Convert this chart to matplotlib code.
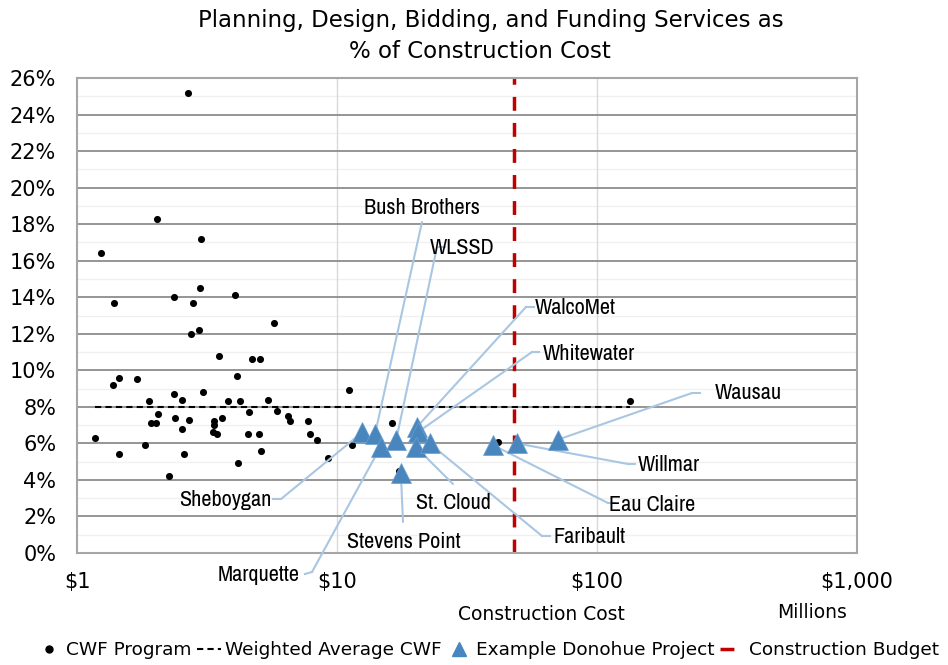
import matplotlib
matplotlib.use("Agg")
import matplotlib.pyplot as plt
from matplotlib.lines import Line2D
from matplotlib import font_manager
from matplotlib.font_manager import FontProperties
import numpy as np

# ---------------- data ----------------
cwf_cost = [1.17, 1.24, 1.38, 1.39, 1.45, 1.45, 1.70, 1.83, 1.89, 1.93,
            2.01, 2.03, 2.05, 2.26, 2.36, 2.36, 2.38, 2.53, 2.53, 2.58,
            2.67, 2.70, 2.75, 2.79, 2.95, 2.97, 3.00, 3.05, 3.34, 3.37,
            3.37, 3.46, 3.52, 3.61, 3.81, 4.05, 4.13, 4.16, 4.24, 4.55,
            4.59, 4.71, 5.01, 5.06, 5.10, 5.43, 5.72, 5.88, 6.48, 6.60,
            7.74, 7.88, 8.38, 9.24, 11.1, 11.4, 16.3, 17.3, 41.6, 134.0]
cwf_pct = [6.3, 16.4, 9.2, 13.7, 9.6, 5.4, 9.5, 5.9, 8.3, 7.1,
           7.1, 18.3, 7.6, 4.2, 14.0, 8.7, 7.4, 8.4, 6.8, 5.4,
           25.2, 7.3, 12.0, 13.7, 12.2, 14.5, 17.2, 8.8, 6.6, 7.2,
           7.0, 6.5, 10.8, 7.4, 8.3, 14.1, 9.7, 4.9, 8.3, 6.5,
           7.7, 10.6, 6.5, 10.6, 5.6, 8.4, 12.6, 7.8, 7.5, 7.2,
           7.2, 6.5, 6.2, 5.2, 8.9, 5.9, 7.1, 4.5, 6.1, 8.3]

project_names = ["Sheboygan", "Bush Brothers", "Marquette", "WLSSD", "WalcoMet",
                 "Whitewater", "St. Cloud", "Faribault", "Stevens Point",
                 "Eau Claire", "Willmar", "Wausau"]
project_cost = [12.5, 14.0, 14.7, 16.9, 20.3, 20.4, 20.1, 22.7, 17.6, 39.9, 49.1, 70.6]
project_pct = [6.6, 6.5, 5.8, 6.2, 6.9, 6.6, 5.8, 6.0, 4.4, 5.9, 6.0, 6.2]

weighted_avg = 8.0
budget = 48.0

y_ticks = list(range(0, 27, 2))
y_tick_labels = [f"{v}%" for v in y_ticks]
x_ticks = [1, 10, 100, 1000]
x_tick_labels = ["$1", "$10", "$100", "$1,000"]

# ---------------- fonts ----------------
main_font = "DejaVu Sans"
plt.rcParams["font.family"] = [main_font]

cands = []
for f in font_manager.fontManager.ttflist:
    fn = f.fname.lower()
    if ("narrow" in fn or "condensed" in fn) and "bold" not in fn and "italic" not in fn \
            and "oblique" not in fn and "light" not in fn and "thin" not in fn:
        cands.append(f.fname)
cands.sort(key=lambda p: (0 if "narrow" in p.lower() else 1, len(p)))
if cands:
    narrow_prop = FontProperties(fname=cands[0], size=16)
else:
    narrow_prop = FontProperties(family="Roboto", size=13.5)

W, H = 948, 665
fig = plt.figure(figsize=(W / 100, H / 100), dpi=100)
L, R, T, B = 77, 857, 78, 553
ax = fig.add_axes([L / W, (H - B) / H, (R - L) / W, (B - T) / H])

ax.set_xscale("log")
ax.set_xlim(1, 1000)
ax.set_ylim(0, 26)

# grid
for v in range(1, 26, 2):
    ax.axhline(v, color="#f0f0f0", lw=1.0, zorder=0)
for v in range(2, 26, 2):
    ax.axhline(v, color="#8c8c8c", lw=1.3, zorder=0.5)
for v in [10, 100]:
    ax.axvline(v, color="#d9d9d9", lw=1.0, zorder=0.4)

for s in ax.spines.values():
    s.set_color("#a6a6a6")
    s.set_linewidth(1.5)

ax.set_yticks(y_ticks)
ax.set_yticklabels(y_tick_labels)
ax.set_xticks(x_ticks)
ax.set_xticklabels(x_tick_labels)
ax.minorticks_off()
ax.tick_params(axis="both", length=0, labelsize=15, colors="black")
ax.tick_params(axis="y", pad=15)
ax.tick_params(axis="x", pad=14)

# series
ax.scatter(cwf_cost, cwf_pct, s=26, color="black", zorder=3, linewidths=0)
ax.plot([min(cwf_cost), max(cwf_cost)], [weighted_avg, weighted_avg],
        color="black", lw=1.5, ls=(0, (3, 2)), zorder=2)
ax.plot([budget, budget], [0, 26], color="#c00000", lw=2.5, ls=(0, (4, 3.5)), zorder=2.5)
tri_color = "#4a86be"
ax.plot(project_cost, project_pct, ls="none", marker="^", ms=14, color=tri_color,
        markeredgecolor="#6a9fcf", markeredgewidth=0.5, zorder=4)

# ---------------- labels with leader lines ----------------
def fx(px):
    return (px - L) / (R - L)

def fy(py):
    return (B - py) / (B - T)

# name: (text center px, leader start px, elbow end px or None)
layout = {
    "Sheboygan":     ((225, 500), (273, 499), (281, 499)),
    "Bush Brothers": ((422, 208), (422, 222), None),
    "Marquette":     ((259, 575), (305, 574), (312, 572)),
    "WLSSD":         ((462, 248), (445, 247), (437, 247)),
    "WalcoMet":      ((575, 308), (534, 307), (526, 307)),
    "Whitewater":    ((589, 354), (539, 352), (532, 352)),
    "St. Cloud":     ((453, 503), (453, 484), None),
    "Faribault":     ((590, 537), (550, 536), (542, 536)),
    "Stevens Point": ((404, 542), (403, 522), None),
    "Eau Claire":    ((652, 505), (615, 503), (608, 503)),
    "Willmar":       ((669, 465), (635, 464), (628, 464)),
    "Wausau":        ((748, 393), (700, 393), (692, 393)),
}
leader_color = "#a9c6e2"
for name, cx, cy in zip(project_names, project_cost, project_pct):
    (tx, ty), s0, s1 = layout[name]
    ax.text(fx(tx), fy(ty), name, transform=ax.transAxes, ha="center", va="center",
            fontproperties=narrow_prop, color="black", zorder=6, clip_on=False)
    start = s0
    if s1 is not None:
        ax.plot([fx(s0[0]), fx(s1[0])], [fy(s0[1]), fy(s1[1])], transform=ax.transAxes,
                color=leader_color, lw=1.5, zorder=3.5, clip_on=False)
        start = s1
    ax.annotate("", xy=(cx, cy), xycoords="data",
                xytext=(fx(start[0]), fy(start[1])), textcoords="axes fraction",
                arrowprops=dict(arrowstyle="-", color=leader_color, lw=1.5,
                                shrinkA=0, shrinkB=0),
                zorder=3.5, annotation_clip=False)

# ---------------- titles ----------------
fig.text(491 / W, 1 - 20 / H, "Planning, Design, Bidding, and Funding Services as",
         ha="center", va="center", fontsize=16.5)
fig.text(480 / W, 1 - 51 / H, "% of Construction Cost", ha="center", va="center", fontsize=16.5)
fig.text(541 / W, 1 - 615 / H, "Construction Cost", ha="center", va="center", fontsize=13.5)
fig.text(812 / W, 1 - 612 / H, "Millions", ha="center", va="center", fontsize=13.5)

# ---------------- legend ----------------
handles = [
    Line2D([], [], ls="none", marker="o", ms=5, color="black"),
    Line2D([], [], color="black", lw=1.5, ls=(0, (3, 2))),
    Line2D([], [], ls="none", marker="^", ms=10, color=tri_color),
    Line2D([], [], color="#c00000", lw=2.5, ls=(0, (4, 3.5))),
]
labels = ["CWF Program", "Weighted Average CWF", "Example Donohue Project", "Construction Budget"]
fig.legend(handles, labels, loc="center", bbox_to_anchor=(488 / W, 1 - 650 / H), ncol=4,
           frameon=False, fontsize=13.3, handlelength=1.3, handletextpad=0.25,
           columnspacing=0.3, borderaxespad=0)

fig.savefig("out.png", dpi=100)
